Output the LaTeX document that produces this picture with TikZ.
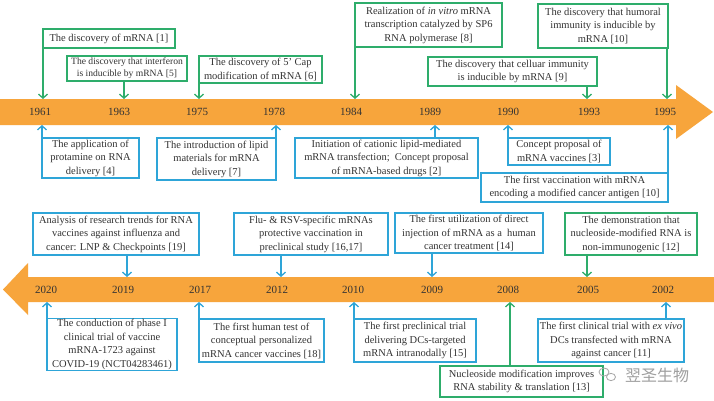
\documentclass[tikz,border=0pt]{standalone}
\usepackage{fontspec}
\setmainfont{Liberation Serif}
\newfontfamily\cjkfont{Noto Sans CJK SC}
\usetikzlibrary{arrows.meta}
\definecolor{bandorange}{HTML}{F7A53C}
\definecolor{boxgreen}{HTML}{2EAD6B}
\definecolor{boxblue}{HTML}{2EA5D8}
\definecolor{txt}{HTML}{333333}
\begin{document}
\begin{tikzpicture}[x=1pt,y=-1pt,
  evbox/.style={draw, line width=1.3pt, fill=white, align=center, inner sep=1pt, text=txt,
    font=\fontsize{10.5}{13.5}\selectfont},
  gbox/.style={evbox, draw=boxgreen},
  bbox/.style={evbox, draw=boxblue},
  glink/.style={draw=boxgreen, line width=1.3pt, -{Straight Barb[length=4pt,width=9pt]}},
  blink/.style={draw=boxblue, line width=1.3pt, -{Straight Barb[length=4pt,width=9pt]}},
  yr/.style={font=\fontsize{11}{12}\selectfont, text=txt}
]
\useasboundingbox (0,0) rectangle (714,400);
\fill[white] (0,0) rectangle (714,400);

% bands
\fill[bandorange] (0,99) -- (676,99) -- (676,85) -- (713,112) -- (676,139) -- (676,125) -- (0,125) -- cycle;
\fill[bandorange] (714,277) -- (28,277) -- (28,263) -- (3,289.5) -- (28,315) -- (28,302) -- (714,302) -- cycle;

% years, top
\node[yr] (y1961) at (40,112) {1961};
\node[yr] (y1963) at (119,112) {1963};
\node[yr] (y1975) at (197,112) {1975};
\node[yr] (y1978) at (274,112) {1978};
\node[yr] (y1984) at (351,112) {1984};
\node[yr] (y1989) at (430,112) {1989};
\node[yr] (y1990) at (508,112) {1990};
\node[yr] (y1993) at (589,112) {1993};
\node[yr] (y1995) at (665,112) {1995};
% years, bottom
\node[yr] (y2020) at (46,289.5) {2020};
\node[yr] (y2019) at (123,289.5) {2019};
\node[yr] (y2017) at (200,289.5) {2017};
\node[yr] (y2012) at (277,289.5) {2012};
\node[yr] (y2010) at (353,289.5) {2010};
\node[yr] (y2009) at (432,289.5) {2009};
\node[yr] (y2008) at (508,289.5) {2008};
\node[yr] (y2005) at (588,289.5) {2005};
\node[yr] (y2002) at (663,289.5) {2002};

% arrow end points on the bands
\coordinate (e1961) at (43,99);
\coordinate (e1963) at (124,99);
\coordinate (e1975) at (199,99);
\coordinate (e1984) at (355,99);
\coordinate (e1993) at (587,99);
\coordinate (e1995) at (667,99);
\coordinate (f1961) at (42,125);
\coordinate (f1978) at (276,125);
\coordinate (f1989) at (435,125);
\coordinate (f1990) at (508,125);
\coordinate (f1995) at (668,125);
\coordinate (g2019) at (127,277);
\coordinate (g2012) at (281,277);
\coordinate (g2009) at (432,277);
\coordinate (g2005) at (587,277);
\coordinate (h2020) at (47,302);
\coordinate (h2017) at (199,302);
\coordinate (h2010) at (354,302);
\coordinate (h2008) at (510,302);
\coordinate (h2002) at (666,302);

% top band, above
\node[gbox, minimum width=132pt, minimum height=19pt] (b1) at (109,38.5) {The discovery of mRNA [1]};
\node[gbox, minimum width=120pt, minimum height=25pt, font=\fontsize{9.6}{12}\selectfont] (b5) at (127,68.5)
  {The discovery that interferon\\is inducible by mRNA [5]};
\node[gbox, minimum width=123pt, minimum height=27pt] (b6) at (260.5,69.5)
  {The discovery of 5’ Cap\\modification of mRNA [6]};
\node[gbox, minimum width=147pt, minimum height=44pt] (b8) at (428.5,25)
  {Realization of \textit{in vitro} mRNA\\transcription catalyzed by SP6\\RNA polymerase [8]};
\node[gbox, minimum width=169pt, minimum height=29pt] (b9) at (512.5,71.5)
  {The discovery that celluar immunity\\is inducible by mRNA [9]};
\node[gbox, minimum width=130pt, minimum height=44pt] (b10) at (603,26)
  {The discovery that humoral\\immunity is inducible by\\mRNA [10]};

% top band, below
\node[bbox, minimum width=97pt, minimum height=40pt] (b4) at (90.5,158)
  {The application of\\protamine on RNA\\delivery [4]};
\node[bbox, minimum width=119pt, minimum height=42pt] (b7) at (216.5,159)
  {The introduction of lipid\\materials for mRNA\\delivery [7]};
\node[bbox, minimum width=183pt, minimum height=40pt] (b2) at (386.5,158)
  {Initiation of cationic lipid-mediated\\mRNA transfection;\ \ Concept proposal\\of mRNA-based drugs [2]};
\node[bbox, minimum width=102pt, minimum height=27pt] (b3) at (559,151.5)
  {Concept proposal of\\mRNA vaccines [3]};
\node[bbox, minimum width=187pt, minimum height=29pt] (b10b) at (574.5,187.5)
  {The first vaccination with mRNA\\encoding a modified cancer antigen [10]};

% bottom band, above
\node[bbox, minimum width=166pt, minimum height=42pt] (b19) at (116,234)
  {Analysis of research trends for RNA\\vaccines against influenza and\\cancer: LNP \& Checkpoints [19]};
\node[bbox, minimum width=154pt, minimum height=42pt] (b16) at (311,234)
  {Flu- \& RSV-specific mRNAs\\protective vaccination in\\preclinical study [16,17]};
\node[bbox, minimum width=148pt, minimum height=40pt] (b14) at (469,233)
  {The first utilization of direct\\injection of mRNA as a\ \ human\\cancer treatment [14]};
\node[gbox, minimum width=132pt, minimum height=42pt] (b12) at (631,234)
  {The demonstration that\\nucleoside-modified RNA is\\non-immunogenic [12]};

% bottom band, below
\node[bbox, minimum width=130pt, minimum height=51pt] (bcov) at (112,344.5)
  {The conduction of phase I\\clinical trial of vaccine\\mRNA-1723 against\\COVID-19 (NCT04283461)};
\node[bbox, minimum width=125pt, minimum height=43pt] (b18) at (261.5,340.5)
  {The first human test of\\conceptual personalized\\mRNA cancer vaccines [18]};
\node[bbox, minimum width=122pt, minimum height=43pt] (b15) at (415,340.5)
  {The first preclinical trial\\delivering DCs-targeted\\mRNA intranodally [15]};
\node[gbox, minimum width=163pt, minimum height=31pt] (b13) at (521.5,381.5)
  {Nucleoside modification improves\\RNA stability \& translation [13]};
\node[bbox, minimum width=146pt, minimum height=43pt] (b11) at (611,340.5)
  {The first clinical trial with \textit{ex vivo}\\DCs transfected with mRNA\\against cancer [11]};

% connectors
\draw[glink] (b1.south -| e1961) -- (e1961);
\draw[glink] (b5.south -| e1963) -- (e1963);
\draw[glink] (b6.south -| e1975) -- (e1975);
\draw[glink] (b8.south -| e1984) -- (e1984);
\draw[glink] (b9.south -| e1993) -- (e1993);
\draw[glink] (b10.south -| e1995) -- (e1995);
\draw[blink] (b4.north -| f1961) -- (f1961);
\draw[blink] (b7.north -| f1978) -- (f1978);
\draw[blink] (b2.north -| f1989) -- (f1989);
\draw[blink] (b3.north -| f1990) -- (f1990);
\draw[blink] (b10b.north -| f1995) -- (f1995);
\draw[blink] (b19.south -| g2019) -- (g2019);
\draw[blink] (b16.south -| g2012) -- (g2012);
\draw[blink] (b14.south -| g2009) -- (g2009);
\draw[glink] (b12.south -| g2005) -- (g2005);
\draw[blink] (bcov.north -| h2020) -- (h2020);
\draw[blink] (b18.north -| h2017) -- (h2017);
\draw[blink] (b15.north -| h2010) -- (h2010);
\draw[glink] (b13.north -| h2008) -- (h2008);
\draw[blink] (b11.north -| h2002) -- (h2002);

% watermark
\draw[gray!70, line width=0.8pt] (604,372) ellipse (5pt and 4pt);
\draw[gray!70, line width=0.8pt, fill=white] (611,377) ellipse (4.5pt and 3.6pt);
\node[text=gray!75, font=\cjkfont\fontsize{16}{17}\selectfont] (wm) at (657,375) {翌圣生物};
\end{tikzpicture}
\end{document}
